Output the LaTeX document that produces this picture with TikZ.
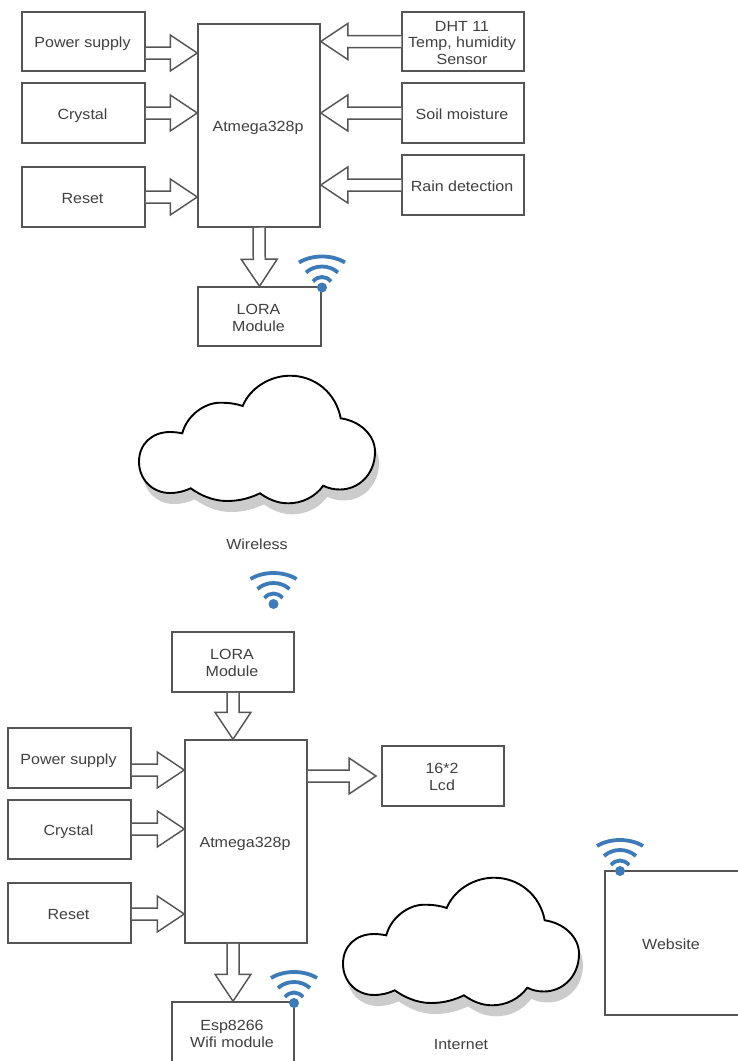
\documentclass[tikz,border=0pt]{standalone}
\usepackage{fontspec}
\setmainfont[FakeStretch=1.09]{Liberation Sans}
\usetikzlibrary{calc}
\definecolor{ln}{HTML}{555555}
\definecolor{tx}{HTML}{404040}
\definecolor{wf}{HTML}{3D7AB8}
\definecolor{shd}{HTML}{CCCCCC}
\tikzset{
  x=1pt,y=-1pt,
  boxn/.style={draw=ln,line width=1.5pt,fill=white,text=tx,align=center,inner sep=0pt,font=\fontsize{14.7}{16.8}\selectfont},
  lbl/.style={text=tx,inner sep=0pt,font=\fontsize{14.7}{16.8}\selectfont},
  hollow/.style={draw=ln,line width=1.5pt,fill=white,line join=miter},
  wifi/.pic={
    \draw[wf,line width=3.8pt] (-23,-25) .. controls (-10,-33) and (10,-33) .. (23,-25);
    \draw[wf,line width=3.8pt] (-16,-15) .. controls (-7,-23) and (7,-23) .. (16,-15);
    \draw[wf,line width=3.8pt] (-9,-6) .. controls (-4,-12) and (4,-12) .. (9,-6);
    \fill[wf] (0,0) circle (5);
  }
}
\newcommand{\cloudpath}{(182.3,433.3) .. controls (187,415) and (205,402.7) .. (220,402.7)
  .. controls (228,402.7) and (236,403.5) .. (242.7,406)
  .. controls (250,388) and (270,375.7) .. (290,375.7)
  .. controls (315,375.7) and (336,393) .. (340.7,418.3)
  .. controls (360,421) and (375,435) .. (375,451.7)
  .. controls (375,475) and (358,489.5) .. (340,489.5)
  .. controls (333,489.5) and (328,488) .. (323.3,485.7)
  .. controls (315,497) and (302,503.3) .. (288.3,503.3)
  .. controls (277,503.3) and (268,499) .. (260,493.3)
  .. controls (250,498) and (240,501) .. (226.7,501)
  .. controls (213,501) and (200,495) .. (190.7,488.3)
  .. controls (185,491) and (178,493) .. (170,493)
  .. controls (152,493) and (139,479) .. (139,461.7)
  .. controls (139,444) and (152,432) .. (170,432)
  .. controls (174,432) and (178,432.5) .. (182.3,433.3) -- cycle}
\newcommand{\bx}[6]{\node[boxn,minimum width=#4-#2,minimum height=#5-#3] (#1) at ({(#2+#4)/2},{(#3+#5)/2}) {\raisebox{-3pt}[\height][\depth]{\begin{tabular}{@{}c@{\hspace{2pt}}}#6\end{tabular}}};}
\newcommand{\harrow}[2]{%
  \coordinate (hb) at ($(#2)!27pt!(#1)$);
  \draw[hollow] ($(#1)!6pt!90:(#2)$) -- ($(hb)!6pt!90:(#2)$) -- ($(hb)!18pt!90:(#2)$) -- (#2)
    -- ($(hb)!18pt!-90:(#2)$) -- ($(hb)!6pt!-90:(#2)$) -- ($(#1)!6pt!-90:(#2)$);}
\newcommand{\cloudat}[2]{%
  \begin{scope}[shift={(#1,#2)}]
    \fill[shd] [shift={(4,11)}] \cloudpath;
    \draw[black,line width=1.9pt,fill=white] \cloudpath;
  \end{scope}}
\begin{document}
\begin{tikzpicture}
\useasboundingbox (0,0) rectangle (737,1061);
\fill[white] (0,0) rectangle (737,1061);
% top block
\bx{ps}{22}{12}{145}{71}{Power supply}
\bx{cr}{22}{83}{145}{143}{Crystal}
\bx{rs}{22}{167}{145}{227}{Reset}
\bx{mc}{198}{24}{320}{227}{Atmega328p}
\bx{dht}{402}{12}{524}{71}{DHT 11\\Temp, humidity\\Sensor}
\bx{soil}{402}{83}{524}{143}{Soil moisture}
\bx{rain}{402}{155}{524}{215}{Rain detection}
\bx{lora}{198}{287}{321}{346}{LORA\\Module}
\coordinate (a1) at (0,53); \coordinate (a2) at (0,113); \coordinate (a3) at (0,197);
\harrow{ps.east |- a1}{mc.west |- a1}
\harrow{cr.east |- a2}{mc.west |- a2}
\harrow{rs.east |- a3}{mc.west |- a3}
\harrow{dht.west}{mc.east |- dht.west}
\harrow{soil.west}{mc.east |- soil.west}
\harrow{rain.west}{mc.east |- rain.west}
\harrow{mc.south}{lora.north}
\pic at (322,287.5) {wifi};
\cloudat{0}{0}
\node[lbl] (wl) at (257,544) {Wireless};
\pic at (273.5,604) {wifi};
% bottom block
\bx{lorab}{172}{632}{294}{692}{LORA\\Module}
\bx{mcb}{185}{740}{307}{943}{Atmega328p}
\bx{psb}{8}{728}{131}{788}{Power supply}
\bx{crb}{8}{800}{131}{859}{Crystal}
\bx{rsb}{8}{883}{131}{943}{Reset}
\bx{lcd}{382}{746}{504}{806}{16*2\\Lcd}
\bx{esp}{172}{1002}{294}{1063}{Esp8266\\Wifi module}
\bx{web}{605}{871}{739}{1015}{Website}
\coordinate (b1) at (0,770); \coordinate (b2) at (0,829); \coordinate (b3) at (0,914); \coordinate (lt) at (376,776);
\harrow{psb.east |- b1}{mcb.west |- b1}
\harrow{crb.east |- b2}{mcb.west |- b2}
\harrow{rsb.east |- b3}{mcb.west |- b3}
\harrow{lorab.south}{lorab.south |- mcb.north}
\harrow{mcb.east |- lt}{lt}
\harrow{esp.north |- mcb.south}{esp.north}
\pic at (294,1003) {wifi};
\pic at (620,871) {wifi};
\cloudat{204}{502}
\node[lbl] (il) at (461,1045) {Internet};
\end{tikzpicture}
\end{document}
